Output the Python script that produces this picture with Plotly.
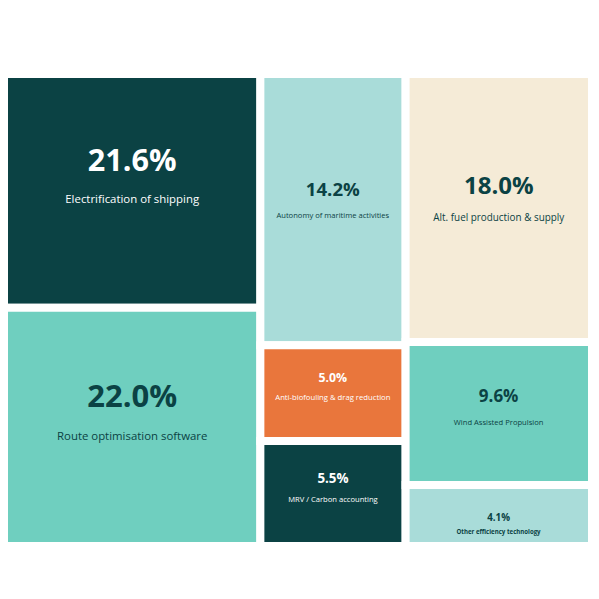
import plotly.graph_objects as go

# Data: three columns of the treemap, top to bottom
groups = ["col1", "col2", "col3"]
labels = [
    "Electrification of shipping", "Route optimisation software",
    "Autonomy of maritime activities", "Anti-biofouling & drag reduction", "MRV / Carbon accounting",
    "Alt. fuel production & supply", "Wind Assisted Propulsion", "Other efficiency technology",
]
group_of = ["col1", "col1", "col2", "col2", "col2", "col3", "col3", "col3"]
shares = [21.6, 22.0, 14.2, 5.0, 5.5, 18.0, 9.6, 4.1]

# Styles (per cell)
cell_colors = ["#0b4244", "#6fcfbf", "#a9dcd9", "#e9763c", "#0b4244", "#f5ebd7", "#6fcfbf", "#a9dcd9"]
text_colors = ["white", "#0b4244", "#0b4244", "white", "white", "#0b4244", "#0b4244", "#0b4244"]
pct_sizes = [30.6, 31, 18.6, 12.3, 13.4, 24, 17, 9.8]
desc_sizes = [11.4, 11.4, 7.6, 7.7, 7.6, 9.9, 7.6, 6.1]
desc_bold = [False, False, False, False, False, False, False, True]
line_sizes = [12.3, 12.7, 8.5, 6.9, 7.3, 10.4, 8.65, 5.2]
spacer_sizes = [72.8, 74.8, 100.8, 23.5, 28.4, 96.7, 42.7, 24.3]

n_par = 1 + len(groups)
ids = ["root"] + groups + labels
parents = [""] + ["root"] * len(groups) + group_of
node_labels = [""] * n_par + labels
values = [0] * n_par + shares
colors = ["white"] * n_par + cell_colors
fcolors = ["white"] * n_par + text_colors
fsizes = [10] * n_par + line_sizes
lwidths = [0] * n_par + [8] * len(labels)

templates = [" "] * n_par
for p, d, b, s in zip(pct_sizes, desc_sizes, desc_bold, spacer_sizes):
    desc = "<span style='font-size:%spx'>%%{label}</span>" % d
    if b:
        desc = "<b>" + desc + "</b>"
    templates.append(
        "<span style='font-size:%spx'>&nbsp;</span><br>" % s
        + "<b><span style='font-size:%spx'>%%{value:.1f}%%</span></b><br><br>" % p
        + desc
    )

fig = go.Figure(go.Treemap(
    ids=ids,
    labels=node_labels,
    parents=parents,
    values=values,
    branchvalues="remainder",
    sort=False,
    tiling=dict(packing="slice-dice", pad=0),
    marker=dict(colors=colors, line=dict(color="white", width=lwidths), pad=dict(t=0, l=0, r=0, b=0)),
    pathbar=dict(visible=False),
    texttemplate=templates,
    textposition="top center",
    textfont=dict(family="Open Sans", color=fcolors, size=fsizes),
    hoverinfo="skip",
))

fig.update_layout(
    width=599, height=599,
    margin=dict(l=4, r=7, t=74, b=53),
    paper_bgcolor="white",
    font=dict(family="Open Sans"),
)

# page body has a default 8px margin; drop it so the figure sits at the corner
fig.write_html("out.html", config={"displayModeBar": False},
               post_script="document.body.style.margin='0';")
